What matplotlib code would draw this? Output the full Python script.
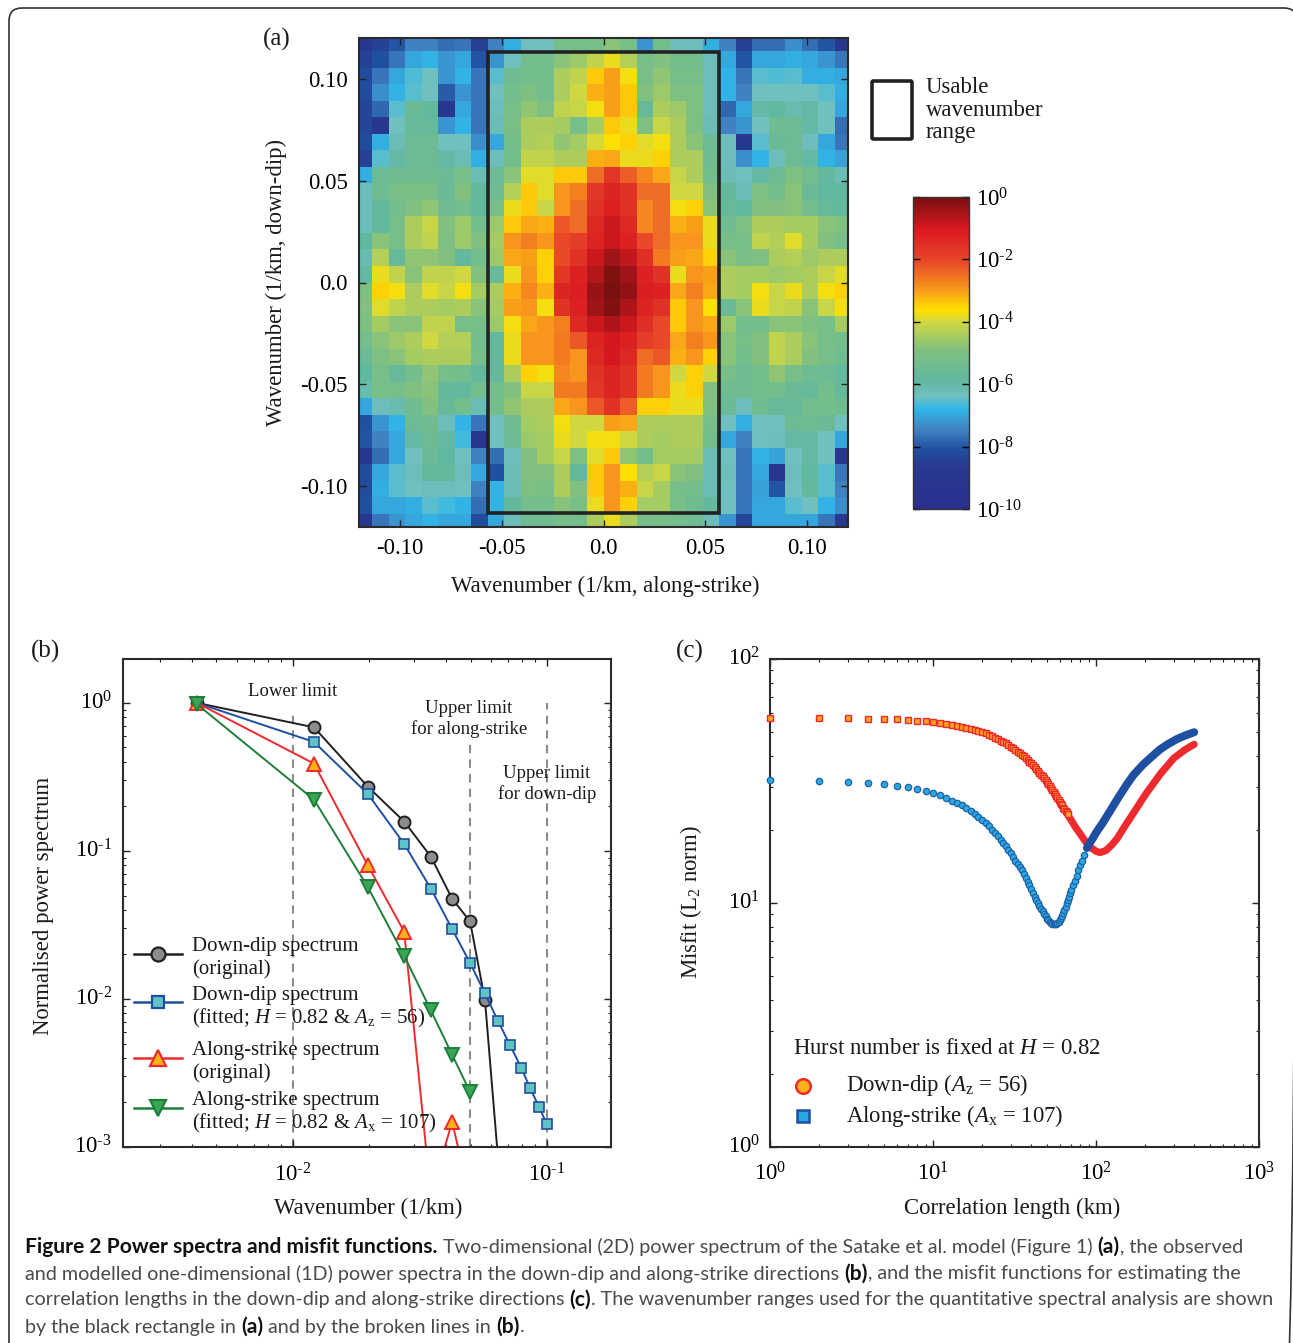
import numpy as np
import matplotlib

matplotlib.use('Agg')
import matplotlib.pyplot as plt
from matplotlib.colors import LinearSegmentedColormap
from matplotlib.lines import Line2D
from matplotlib.patches import FancyBboxPatch, Rectangle
from matplotlib.ticker import LogLocator, NullFormatter, FixedLocator
from matplotlib.transforms import Affine2D, ScaledTranslation

W, H = 1293, 1343

plt.rcParams['font.family'] = ['Liberation Serif', 'DejaVu Serif']
plt.rcParams['mathtext.fontset'] = 'custom'
plt.rcParams['mathtext.rm'] = 'Liberation Serif'
plt.rcParams['mathtext.it'] = 'Liberation Serif:italic'
plt.rcParams['mathtext.bf'] = 'Liberation Serif:bold'

# panel (a): log10 of the 2D power, row 0 is the top of the map
log_power = [
    [-8.8,-8.4,-8.0,-7.5,-7.5,-7.7,-7.6,-8.5,-7.5,-6.9,-6.4,-6.4,-5.2,-5.2,-5.2,-4.8,-5.2,-7.2,-5.3,-6.3,-6.3,-6.9,-7.5,-8.5,-7.7,-7.7,-7.3,-7.7,-8.0,-8.7],
    [-8.4,-8.1,-7.6,-7.0,-6.8,-7.2,-7.0,-8.0,-7.2,-6.4,-5.3,-5.3,-4.8,-4.6,-4.2,-3.8,-4.3,-5.2,-4.9,-5.3,-5.3,-6.3,-7.0,-8.0,-7.0,-7.0,-6.9,-7.0,-7.2,-7.6],
    [-8.2,-7.6,-7.0,-6.6,-6.4,-7.2,-6.8,-7.6,-6.5,-5.4,-5.3,-5.3,-4.4,-4.2,-3.4,-3.0,-3.7,-5.1,-4.7,-5.2,-5.2,-6.3,-6.8,-7.6,-6.5,-6.6,-6.5,-6.9,-6.9,-7.0],
    [-8.2,-7.3,-6.8,-6.5,-6.4,-7.9,-7.2,-7.6,-6.4,-5.3,-5.0,-5.3,-4.4,-4.05,-3.2,-3.0,-3.4,-4.9,-4.6,-5.0,-5.0,-6.3,-6.8,-7.5,-6.4,-6.4,-6.4,-6.4,-6.5,-6.9],
    [-8.3,-7.8,-6.5,-5.6,-5.8,-8.7,-7.0,-7.6,-6.3,-5.2,-4.7,-5.0,-4.2,-4.1,-3.7,-3.0,-3.4,-5.7,-4.4,-4.6,-5.0,-6.3,-7.8,-7.0,-6.0,-5.9,-6.1,-6.0,-6.4,-7.0],
    [-8.3,-8.8,-6.4,-5.7,-5.7,-7.2,-6.8,-7.6,-6.2,-5.1,-4.4,-4.4,-4.5,-5.2,-4.5,-3.4,-3.8,-5.0,-4.1,-4.4,-5.0,-6.2,-7.5,-7.2,-6.4,-5.4,-5.5,-6.0,-6.4,-7.7],
    [-8.2,-6.9,-6.2,-5.5,-5.5,-6.4,-6.4,-7.3,-7.0,-5.3,-4.4,-4.3,-4.7,-4.5,-3.95,-3.6,-3.5,-3.9,-3.75,-4.4,-4.8,-5.5,-6.3,-8.7,-6.5,-5.6,-5.5,-6.3,-7.0,-7.6],
    [-8.5,-6.5,-6.0,-5.5,-5.5,-6.0,-6.2,-6.9,-6.3,-5.3,-4.2,-4.2,-4.4,-4.4,-3.2,-3.1,-3.8,-3.8,-3.5,-4.4,-4.4,-5.4,-6.3,-7.3,-6.8,-6.3,-5.5,-6.0,-6.8,-7.1],
    [-6.9,-5.5,-5.4,-5.4,-5.4,-5.5,-5.2,-6.2,-5.5,-4.8,-3.9,-3.9,-3.4,-3.4,-2.5,-1.7,-2.3,-2.8,-3.1,-4.1,-4.4,-5.3,-6.2,-6.4,-6.0,-5.5,-5.0,-5.3,-5.8,-6.2],
    [-6.3,-5.4,-5.1,-5.1,-5.1,-5.6,-4.9,-5.8,-5.4,-4.3,-3.4,-3.9,-2.9,-2.7,-1.7,-1.3,-1.6,-2.5,-2.5,-4.0,-4.0,-4.9,-5.8,-6.2,-5.0,-5.3,-4.8,-5.6,-5.9,-5.9],
    [-6.3,-5.8,-5.3,-4.9,-4.7,-5.4,-5.3,-5.8,-5.2,-3.8,-3.4,-4.1,-2.9,-2.5,-1.6,-1.2,-1.6,-2.8,-2.5,-3.7,-3.5,-4.8,-5.7,-5.9,-4.9,-4.9,-4.8,-5.3,-5.7,-5.8],
    [-6.3,-5.8,-5.2,-4.4,-4.1,-4.9,-4.6,-5.3,-4.6,-3.4,-3.1,-3.2,-2.2,-2.5,-1.4,-0.9,-1.4,-2.8,-2.5,-3.2,-3.0,-3.8,-5.4,-5.0,-4.4,-4.4,-4.5,-4.5,-4.8,-4.9],
    [-5.9,-4.8,-5.2,-4.4,-4.2,-5.0,-4.6,-4.9,-4.5,-2.9,-2.7,-2.9,-2.1,-1.8,-1.3,-0.9,-1.2,-2.1,-2.5,-2.9,-2.9,-3.8,-5.2,-5.2,-4.2,-4.3,-3.9,-4.5,-4.9,-5.2],
    [-6.1,-4.3,-5.7,-4.7,-4.7,-4.9,-5.8,-5.3,-4.6,-3.1,-3.0,-3.5,-2.1,-1.6,-0.9,-0.45,-0.8,-1.5,-2.6,-3.0,-3.1,-3.5,-4.8,-5.1,-5.0,-4.4,-4.3,-4.6,-4.4,-4.4],
    [-6.0,-3.8,-4.2,-4.8,-4.2,-4.2,-4.0,-4.9,-5.7,-3.8,-2.9,-3.5,-1.7,-1.2,-0.7,-0.15,-0.4,-1.2,-1.6,-3.8,-2.9,-3.0,-4.4,-4.5,-4.5,-4.6,-4.5,-4.4,-4.1,-3.9],
    [-5.0,-3.5,-3.7,-4.4,-3.9,-4.1,-3.7,-4.5,-4.4,-3.2,-2.8,-3.2,-1.3,-1.1,-0.35,-0.02,-0.3,-1.1,-1.2,-3.1,-2.7,-3.1,-4.4,-4.5,-3.7,-4.1,-3.8,-4.4,-3.7,-3.5],
    [-4.9,-3.9,-4.2,-4.4,-4.4,-4.5,-4.4,-4.8,-4.5,-3.0,-2.9,-3.7,-1.6,-1.2,-0.4,-0.15,-0.6,-1.3,-1.6,-3.4,-2.9,-3.6,-5.6,-4.8,-3.8,-4.1,-4.2,-4.8,-4.1,-3.7],
    [-5.0,-4.5,-4.8,-4.8,-4.2,-4.2,-5.2,-5.2,-4.6,-3.7,-3.1,-2.9,-2.7,-1.4,-0.9,-0.55,-0.9,-1.5,-2.1,-3.4,-2.9,-3.1,-4.6,-5.3,-5.3,-4.8,-4.8,-5.0,-5.2,-4.5],
    [-5.3,-4.8,-4.6,-4.4,-4.0,-4.3,-4.3,-5.3,-5.8,-3.8,-2.9,-2.9,-2.6,-2.2,-1.3,-0.95,-1.2,-1.8,-2.1,-3.1,-2.7,-2.9,-4.8,-5.2,-4.9,-4.2,-4.4,-4.8,-5.2,-5.3],
    [-5.6,-5.0,-4.8,-4.5,-4.4,-4.4,-4.4,-5.2,-5.8,-3.8,-2.9,-2.9,-2.6,-2.9,-1.4,-1.0,-1.4,-2.5,-2.2,-3.2,-2.9,-3.5,-4.8,-5.3,-4.9,-4.2,-4.4,-4.9,-5.2,-5.4],
    [-5.9,-5.2,-5.7,-5.3,-4.7,-5.2,-5.3,-5.8,-5.8,-4.4,-3.5,-3.7,-2.8,-2.9,-1.6,-1.3,-1.6,-2.6,-2.9,-4.0,-3.5,-4.0,-5.2,-5.4,-5.3,-4.7,-5.2,-5.4,-5.5,-5.8],
    [-6.1,-5.2,-5.2,-4.9,-4.8,-5.8,-5.8,-5.3,-5.3,-4.9,-4.1,-4.1,-2.6,-2.6,-1.7,-1.3,-1.6,-2.6,-2.9,-3.8,-3.5,-4.9,-5.4,-5.4,-5.3,-5.3,-5.6,-5.7,-5.3,-5.7],
    [-7.0,-6.3,-6.1,-5.4,-4.9,-5.7,-5.3,-6.2,-5.3,-4.7,-4.4,-4.4,-3.1,-2.9,-2.2,-1.6,-2.3,-3.5,-3.5,-3.8,-3.8,-4.9,-5.6,-6.3,-5.4,-5.7,-5.7,-5.3,-5.3,-5.4],
    [-8.1,-7.2,-6.8,-5.5,-5.4,-6.3,-6.8,-7.6,-6.4,-5.4,-4.5,-4.4,-3.7,-4.0,-4.0,-3.0,-3.1,-4.4,-4.4,-4.4,-4.4,-5.2,-6.4,-6.9,-6.4,-6.4,-5.5,-5.4,-5.6,-6.4],
    [-8.0,-7.5,-7.0,-6.0,-5.5,-6.0,-6.7,-8.7,-6.4,-5.5,-4.6,-4.5,-3.8,-4.0,-3.7,-3.7,-4.0,-4.4,-4.5,-4.4,-4.4,-5.3,-7.0,-7.5,-6.4,-6.3,-6.0,-6.0,-6.4,-7.0],
    [-8.8,-7.7,-7.0,-6.4,-5.6,-5.9,-6.4,-7.5,-7.7,-6.3,-4.9,-4.5,-4.1,-5.0,-3.9,-3.4,-4.7,-5.3,-4.5,-4.5,-4.5,-6.2,-6.4,-7.6,-6.8,-7.1,-6.4,-6.0,-6.4,-8.9],
    [-8.2,-7.0,-6.5,-6.3,-5.8,-5.8,-6.3,-7.0,-8.1,-6.2,-4.9,-4.9,-4.4,-5.8,-3.4,-2.9,-3.6,-4.3,-4.1,-4.8,-4.9,-6.2,-6.3,-7.6,-7.0,-8.8,-6.3,-5.9,-6.5,-7.6],
    [-8.2,-6.9,-6.5,-6.4,-6.3,-6.3,-6.4,-7.5,-6.8,-6.2,-5.0,-5.1,-4.4,-4.9,-3.4,-2.9,-3.2,-4.1,-4.5,-5.2,-5.3,-6.2,-6.4,-7.6,-7.1,-8.0,-6.4,-5.8,-6.5,-7.5],
    [-8.1,-7.0,-7.0,-6.9,-6.5,-6.7,-6.8,-7.7,-6.8,-5.8,-5.3,-5.3,-4.8,-5.1,-3.8,-2.9,-3.5,-4.5,-4.5,-5.2,-5.4,-5.8,-6.4,-7.6,-7.0,-7.0,-6.5,-6.4,-6.8,-7.3],
    [-8.8,-7.6,-7.2,-7.0,-6.8,-7.0,-7.0,-8.2,-7.0,-6.3,-5.4,-5.4,-5.2,-5.3,-4.4,-3.8,-4.4,-5.2,-5.2,-5.3,-5.4,-6.3,-7.2,-8.3,-7.0,-7.0,-7.0,-7.0,-7.6,-8.8],
]
cell_edges = [-0.122, -0.1138, -0.1057, -0.0976, -0.0894, -0.0813, -0.0732, -0.0650, -0.0569, -0.0488, -0.0407,
              -0.0325, -0.0244, -0.0163, -0.0081, 0.0, 0.0081, 0.0163, 0.0244, 0.0325, 0.0407, 0.0488, 0.0569,
              0.0650, 0.0732, 0.0813, 0.0894, 0.0976, 0.1057, 0.1138, 0.122]
usable_x = [-0.0566, 0.057]
usable_y = [-0.1133, 0.1133]
wn_ticks = [-0.10, -0.05, 0.0, 0.05, 0.10]
wn_labels = ['-0.10', '-0.05', '0.0', '0.05', '0.10']
cbar_ticks = [0, -2, -4, -6, -8, -10]
cbar_labels = [r'$10^{\text{0}}$', r'$10^{\text{-2}}$', r'$10^{\text{-4}}$', r'$10^{\text{-6}}$', r'$10^{\text{-8}}$', r'$10^{\text{-10}}$']
cmap_stops = [-10, -8.7, -8.1, -7.5, -6.8, -6.4, -5.9, -4.9, -4, -3.6, -2.9, -2, -1, 0]
cmap_colors = ['#2a2f8f', '#28388f', '#2050a0', '#4080c0', '#30b8e8', '#70c0c0', '#60b8a0', '#80c080',
               '#d0d840', '#ffe000', '#f7941d', '#e8452a', '#d81920', '#7a1010']

# panel (b): normalised 1D spectra
wavenumber = [0.00419, 0.0121, 0.0197, 0.0274, 0.0349, 0.0423, 0.0498, 0.0570, 0.0641, 0.0715, 0.0791, 0.0857, 0.0931, 0.1]
dd_original = [1.0, 0.684, 0.272, 0.158, 0.0915, 0.0476, 0.0334, 0.0098, 0.00085]
dd_fitted = [1.0, 0.545, 0.243, 0.1115, 0.0557, 0.0297, 0.0175, 0.0109, 0.0071, 0.00489, 0.00344, 0.00251, 0.00186, 0.00142]
as_original = [1.0, 0.389, 0.08, 0.0285, 0.00047, 0.00148, 0.00045]
as_fitted = [0.98, 0.222, 0.0571, 0.0196, 0.00837, 0.00421, 0.00235]
limit_x = [0.01, 0.0498, 0.1]
limit_top = [0.857, 0.54, 1.0]

# panel (c): misfit against correlation length
len_az = [1, 2, 3, 4, 5, 6, 7, 8, 9, 10, 11, 12, 13, 14, 15, 16, 17, 18, 19, 20, 21, 22, 23, 24, 25, 26, 27, 28, 29, 30,
          31, 32, 33, 34, 35, 36, 37, 38, 39, 40, 41, 42, 43, 44, 45, 46, 47, 48, 49, 50, 51, 52, 53, 54, 55, 56, 57,
          58, 59, 60, 61, 62, 63, 64, 65, 66, 67, 68, 69, 70, 75, 80, 85, 90, 95, 100, 106, 115, 125, 135,
          150, 175, 200, 250, 300, 350, 400]
misfit_az = [57.3, 57.3, 57.1, 57.0, 56.8, 56.6, 56.2, 55.9, 55.5, 55.2, 54.7, 54.2, 53.7, 53.2, 52.6, 52.2, 51.5, 51.2,
             50.7, 50.2, 49.6, 49.0, 48.3, 47.6, 47.0, 46.3, 45.7, 45.1, 44.4, 43.7, 43.0, 42.4, 41.7, 41.1, 40.5,
             39.9, 39.3, 38.7, 38.0, 37.4, 36.7, 36.0, 35.4, 34.8, 34.2, 33.6, 33.0, 32.4, 31.8, 31.2, 30.6, 30.1,
             29.5, 29.0, 28.5, 28.0, 27.5, 27.0, 26.4, 25.9, 25.5, 25.1, 24.6, 24.2, 23.8, 23.5, 23.1, 22.7, 22.3,
             22.0, 20.4, 19.2, 18.1, 17.2, 16.7, 16.3, 16.1, 16.4, 17.3, 18.4, 20.6, 24.1, 27.7, 34.0, 39.2, 42.4, 44.7]
len_ax = [1, 2, 3, 4, 5, 6, 7, 8, 9, 10, 11, 12, 13, 14, 15, 16, 17, 18, 19, 20, 21, 22, 23, 24, 25, 26, 27, 28, 29, 30,
          31, 32, 33, 34, 35, 36, 37, 38, 39, 40, 41, 42, 43, 44, 45, 46, 47, 48, 49, 50, 51, 52, 53, 54, 55, 56, 57,
          58, 59, 60, 61, 62, 63, 64, 65, 66, 67, 68, 69, 70, 72, 74, 76, 78, 80, 82, 85, 88, 90, 95, 100, 110, 122,
          135, 154, 170, 195, 220, 247, 275, 312, 350, 400]
misfit_ax = [31.8, 31.7, 31.4, 31.1, 30.7, 30.3, 29.8, 29.3, 28.8, 28.2, 27.6, 26.9, 26.3, 25.7, 25.1, 24.4, 23.8, 23.2,
             22.5, 21.9, 21.3, 20.7, 20.0, 19.4, 18.8, 18.2, 17.6, 17.1, 16.5, 16.0, 15.4, 14.9, 14.4, 14.0, 13.6,
             13.2, 12.7, 12.2, 11.8, 11.4, 11.0, 10.6, 10.3, 9.97, 9.7, 9.45, 9.23, 9.02, 8.82, 8.63, 8.5, 8.38, 8.3,
             8.23, 8.2, 8.18, 8.22, 8.28, 8.38, 8.52, 8.68, 8.87, 9.1, 9.36, 9.65, 9.97, 10.3, 10.6, 10.95, 11.3,
             11.8, 12.3, 12.9, 13.6, 14.3, 14.9, 15.8, 16.8, 17.3, 18.3, 19.4, 21.3, 23.8, 26.6, 30.5, 33.5, 37.0,
             39.8, 42.6, 44.7, 46.9, 48.5, 50.1]

caption_lines = [
    [('Figure 2 Power spectra and misfit functions.', True), ('Two-dimensional (2D) power spectrum of the Satake et al. model (Figure 1)', False), ('(a)', True), (', the observed', False)],
    [('and modelled one-dimensional (1D) power spectra in the down-dip and along-strike directions', False), ('(b)', True), (', and the misfit functions for estimating the', False)],
    [('correlation lengths in the down-dip and along-strike directions', False), ('(c)', True), ('. The wavenumber ranges used for the quantitative spectral analysis are shown', False)],
    [('by the black rectangle in', False), ('(a)', True), ('and by the broken lines in', False), ('(b)', True), ('.', False)],
]
caption_y = [1247, 1274, 1300, 1327]

fig = plt.figure(figsize=(W / 100, H / 100), dpi=100)
PX = Affine2D().scale(1 / W, -1 / H).translate(0, 1) + fig.transFigure


def px_axes(x0, y0, x1, y1):
    return fig.add_axes([x0 / W, 1 - y1 / H, (x1 - x0) / W, (y1 - y0) / H])


def put(x, y, s, size=16.4, **kw):
    kw.setdefault('ha', 'center')
    kw.setdefault('va', 'center')
    return fig.text(x / W, 1 - (y + 2) / H, s, fontsize=size, color='#1a1a1a', **kw)


def style_axes(ax):
    for sp in ax.spines.values():
        sp.set_linewidth(1.5)
        sp.set_color('#2b2b2b')
    ax.tick_params(which='both', direction='in', top=True, right=True, color='#222222')
    ax.tick_params(which='major', length=5, width=1, labelsize=16.4)
    ax.tick_params(which='minor', length=2.5, width=0.8)


def raise_ylabels(ax, px):
    # the y tick labels of (b) and (c) sit a little above their ticks
    for tick in ax.yaxis.get_major_ticks():
        tick.label1.set_transform(tick.label1.get_transform() + ScaledTranslation(0, px / 100, fig.dpi_scale_trans))


# rounded card outline
fig.add_artist(FancyBboxPatch((9, 8), 1288, 1420, boxstyle='round,pad=0,rounding_size=13', transform=PX,
                              fill=False, ec='#333333', lw=1.2))

# (a) 2D power spectrum
ax_a = px_axes(359, 38, 848, 527)
cmap = LinearSegmentedColormap.from_list('spec', [((s + 10) / 10, c) for s, c in zip(cmap_stops, cmap_colors)], N=128)
mesh = ax_a.pcolormesh(cell_edges, cell_edges[::-1], np.array(log_power), cmap=cmap, vmin=-10, vmax=0)
ax_a.add_patch(Rectangle((usable_x[0], usable_y[0]), usable_x[1] - usable_x[0], usable_y[1] - usable_y[0],
                         fill=False, ec='#222222', lw=2.6))
ax_a.set_xlim(-0.1203, 0.1203)
ax_a.set_ylim(-0.1203, 0.1203)
ax_a.set_xticks(wn_ticks, wn_labels)
ax_a.set_yticks(wn_ticks, wn_labels)
style_axes(ax_a)
ax_a.tick_params(which='major', pad=8)
put(605, 584, 'Wavenumber (1/km, along-strike)')
put(276, 280, 'Wavenumber (1/km, down-dip)', rotation=90)
put(277, 37, '(a)', size=18)

fig.add_artist(FancyBboxPatch((872, 81), 40, 58, boxstyle='round,pad=0,rounding_size=1.5', transform=PX,
                              fill=False, ec='#222222', lw=2.6))
put(926, 108, 'Usable\nwavenumber\nrange', ha='left', linespacing=1.08)

cax = px_axes(913, 197, 969, 509)
cbar = fig.colorbar(mesh, cax=cax)
cbar.set_ticks(cbar_ticks, labels=cbar_labels)
cbar.outline.set_linewidth(1.0)
cbar.outline.set_edgecolor('#333333')
cax.tick_params(which='major', direction='in', left=True, right=True, length=5, width=1, labelsize=16.4, pad=5)

# (b) 1D spectra
ax_b = px_axes(123, 659, 611, 1147)
ax_b.set_xscale('log')
ax_b.set_yscale('log')
ax_b.vlines(limit_x, 1e-3, limit_top, colors='#8c8c8c', linestyles=(0, (4, 3)), lw=1.5, zorder=1)
series_b = [
    (dd_original, 'o', '#231f20', '#8a8c8e', 8.6, 1.4),
    (dd_fitted, 's', '#1f4fa0', '#5fc3c3', 6.6, 1.2),
    (as_original, '^', '#ee2a2e', '#fbb21a', 9.5, 1.4),
    (as_fitted, 'v', '#1d7f3a', '#3aa655', 9.5, 1.4),
]
for vals, mk, line_c, face_c, ms, mew in series_b:
    ax_b.plot(wavenumber[:len(vals)], vals, '-', color=line_c, lw=1.4, marker=mk, ms=ms, mfc=face_c, mec=line_c, mew=mew)
ax_b.set_xlim(0.002143, 0.1786)
ax_b.set_ylim(1e-3, 1.98)
ax_b.xaxis.set_major_locator(FixedLocator([0.01, 0.1]))
ax_b.set_xticklabels([r'$10^{\text{-2}}$', r'$10^{\text{-1}}$'])
ax_b.xaxis.set_minor_locator(LogLocator(base=10, subs=np.arange(2, 10)))
ax_b.xaxis.set_minor_formatter(NullFormatter())
ax_b.yaxis.set_major_locator(FixedLocator([1e-3, 1e-2, 1e-1, 1]))
ax_b.set_yticklabels([r'$10^{\text{-3}}$', r'$10^{\text{-2}}$', r'$10^{\text{-1}}$', r'$10^{\text{0}}$'])
ax_b.yaxis.set_minor_locator(LogLocator(base=10, subs=np.arange(2, 10)))
ax_b.yaxis.set_minor_formatter(NullFormatter())
style_axes(ax_b)
ax_b.tick_params(which='major', pad=12, axis='x')
ax_b.tick_params(which='major', pad=8, axis='y')
raise_ylabels(ax_b, 3)
put(368, 1206, 'Wavenumber (1/km)')
put(43, 904, 'Normalised power spectrum', rotation=90)
put(45, 649, '(b)', size=18)
put(293, 689.5, 'Lower limit', size=13.5)
put(469, 717, 'Upper limit\nfor along-strike', size=13.5, linespacing=1.2)
put(547, 782, 'Upper limit\nfor down-dip', size=13.5, linespacing=1.2)

legend_y = [954, 1002, 1058, 1108]
legend_first = ['Down-dip spectrum', 'Down-dip spectrum', 'Along-strike spectrum', 'Along-strike spectrum']
legend_second = ['(original)', r'(fitted; $\mathit{H}$ = 0.82 & $\mathit{A}_{\mathrm{z}}$ = 56)',
                 '(original)', r'(fitted; $\mathit{H}$ = 0.82 & $\mathit{A}_{\mathrm{x}}$ = 107)']
first_base = [949, 998, 1053, 1103]
second_base = [972, 1021, 1076, 1126]
for i, (vals, mk, line_c, face_c, ms, mew) in enumerate(series_b):
    y = legend_y[i]
    fig.add_artist(Line2D([134, 182], [y, y], transform=PX, color=line_c, lw=1.8))
    fig.add_artist(Line2D([158], [y], transform=PX, color=line_c, marker=mk, ms=ms + 1.5, mfc=face_c, mec=line_c, mew=1.6))
    put(192, first_base[i], legend_first[i], size=15.0, ha='left', va='baseline')
    put(192, second_base[i], legend_second[i], size=15.0, ha='left', va='baseline')

# (c) misfit functions, the dense tail of markers merges into a solid band
ax_c = px_axes(770, 659, 1259, 1147)
ax_c.set_xscale('log')
ax_c.set_yscale('log')
len_az_arr, misfit_az_arr = np.array(len_az), np.array(misfit_az)
len_ax_arr, misfit_ax_arr = np.array(len_ax), np.array(misfit_ax)
tail_az = len_az_arr >= 68
tail_ax = len_ax_arr >= 88
ax_c.plot(len_az_arr[tail_az], misfit_az_arr[tail_az], '-', color='#ee2a2e', lw=5.2, solid_capstyle='round', zorder=2)
ax_c.plot(len_az_arr[~tail_az], misfit_az_arr[~tail_az], ls='none', marker='s', ms=3.7, mfc='#f9a61b', mec='#ee2a2e', mew=1.0, clip_on=False, zorder=3)
ax_c.plot(len_ax_arr[tail_ax], misfit_ax_arr[tail_ax], '-', color='#1f4fa0', lw=5.8, solid_capstyle='round', zorder=4)
ax_c.plot(len_ax_arr[~tail_ax], misfit_ax_arr[~tail_ax], ls='none', marker='o', ms=4.6, mfc='#29a8e0', mec='#2060a8', mew=0.9, clip_on=False, zorder=5)
ax_c.set_xlim(1, 1000)
ax_c.set_ylim(1, 100)
ax_c.set_xticks([1, 10, 100, 1000], [r'$10^{\text{0}}$', r'$10^{\text{1}}$', r'$10^{\text{2}}$', r'$10^{\text{3}}$'])
ax_c.set_yticks([1, 10, 100], [r'$10^{\text{0}}$', r'$10^{\text{1}}$', r'$10^{\text{2}}$'])
ax_c.xaxis.set_minor_locator(LogLocator(base=10, subs=np.arange(2, 10)))
ax_c.xaxis.set_minor_formatter(NullFormatter())
ax_c.yaxis.set_minor_locator(LogLocator(base=10, subs=np.arange(2, 10)))
ax_c.yaxis.set_minor_formatter(NullFormatter())
style_axes(ax_c)
ax_c.tick_params(which='major', pad=11, axis='x')
ax_c.tick_params(which='major', pad=7, axis='y')
raise_ylabels(ax_c, 3)
put(1012, 1206, 'Correlation length (km)')
put(691, 900, r'Misfit (L$_{2}$ norm)', rotation=90)
put(690, 649, '(c)', size=18)
put(793, 1046, r'Hurst number is fixed at $\mathit{H}$ = 0.82', ha='left')
fig.add_artist(Line2D([803], [1086], transform=PX, marker='o', ms=10.5, mfc='#fbb21a', mec='#ee2a2e', mew=1.8, ls='none'))
fig.add_artist(Line2D([803], [1116], transform=PX, marker='s', ms=8.2, mfc='#29a8e0', mec='#1f4fa0', mew=1.8, ls='none'))
put(846, 1083, r'Down-dip ($\mathit{A}_{\mathrm{z}}$ = 56)', ha='left')
put(846, 1114, r'Along-strike ($\mathit{A}_{\mathrm{x}}$ = 107)', ha='left')

# caption, bold and plain runs laid out one after the other
renderer = fig.canvas.get_renderer()
cap_family = ['Lato', 'DejaVu Sans']
for line, y in zip(caption_lines, caption_y):
    x = 25
    for i, (s, bold) in enumerate(line):
        t = fig.text(x / W, 1 - y / H, s, fontsize=15.15 if bold else 14.25, family=cap_family, va='center', ha='left',
                     fontweight='bold' if bold else 'normal', color='#111111' if bold else '#4a4a4a')
        x += t.get_window_extent(renderer).width
        if i + 1 < len(line) and line[i + 1][0][0] not in ',.':
            x += 5.2

fig.savefig('out.png', dpi=100)
